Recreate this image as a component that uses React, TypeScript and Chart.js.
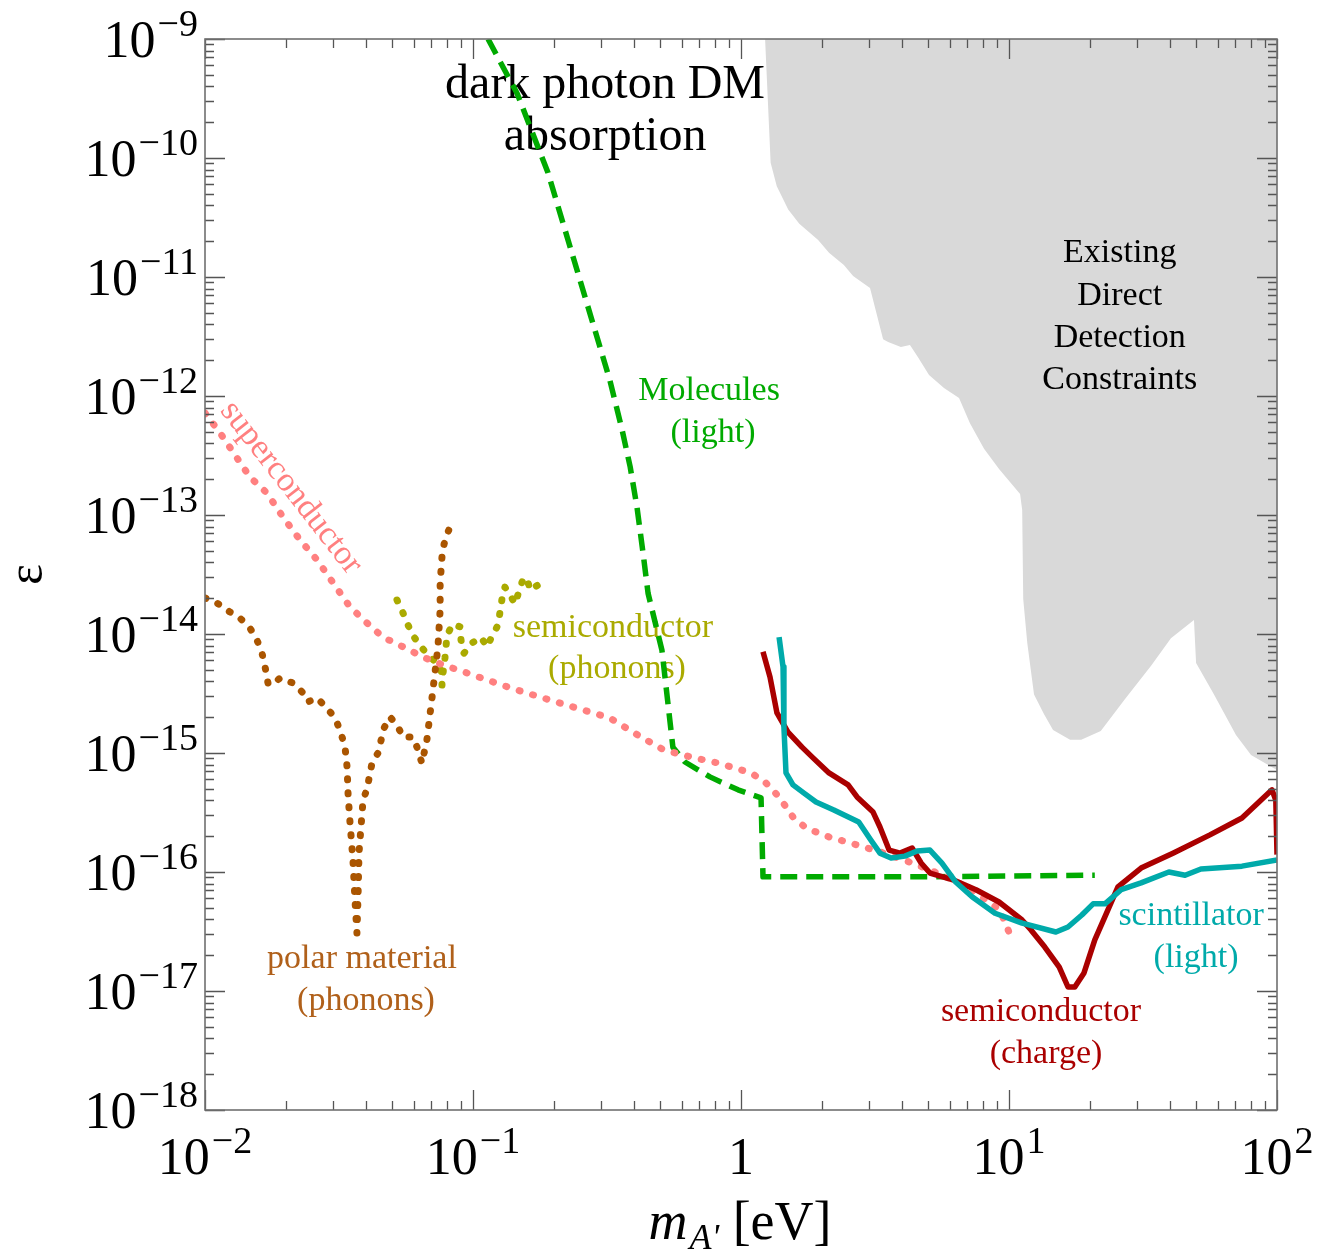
import { useEffect, useRef } from 'react';
import { Chart, registerables } from 'chart.js';
Chart.register(...registerables);

const SERIF = '"Liberation Serif", "Times New Roman", Times, serif';
const W = 1317;
const H = 1249;

// ---- Existing direct detection constraints (grey region, upper boundary) ----
const constraintMass = [1.23, 1.29, 1.36, 1.5, 1.65, 1.94, 2.13, 2.42, 2.62, 3.03, 3.39, 3.54, 3.95, 4.27, 4.57, 5.03, 5.72, 6.51, 7.15, 8.07, 9.18, 11.0, 11.2, 11.3, 11.7, 12.4, 13.5, 14.6, 16.9, 18.6, 22.0, 27.1, 33.9, 40.2, 49.0, 49.9, 58.2, 70.3, 80.0, 96.6, 100];
const constraintEps = [1e-9, 9.1e-11, 5.8e-11, 3.7e-11, 2.8e-11, 2.05e-11, 1.6e-11, 1.26e-11, 1.02e-11, 8.1e-12, 3.0e-12, 2.84e-12, 2.58e-12, 2.68e-12, 2.13e-12, 1.5e-12, 1.17e-12, 9.6e-13, 5.9e-13, 3.6e-13, 2.44e-13, 1.5e-13, 1.1e-13, 1.97e-14, 8.4e-15, 3.1e-15, 2.13e-15, 1.56e-15, 1.29e-15, 1.29e-15, 1.53e-15, 2.84e-15, 5.4e-15, 9.2e-15, 1.31e-14, 5.7e-15, 3.1e-15, 1.42e-15, 9.6e-16, 7.5e-16, 7.2e-16];

// ---- Molecules (light) ----
const moleculesMass = [0.1138, 0.146, 0.1905, 0.324, 0.36, 0.386, 0.409, 0.431, 0.45, 0.507, 0.557, 0.618, 0.766, 0.975, 1.188, 1.208, 4.7, 20.9];
const moleculesEps = [1e-9, 3.5e-10, 7.5e-11, 1.36e-12, 5.2e-13, 2.53e-13, 1.17e-13, 4.8e-14, 2.2e-14, 7.3e-15, 1.12e-15, 8.4e-16, 6.3e-16, 4.9e-16, 4.2e-16, 9.1e-17, 9.1e-17, 9.4e-17];

// ---- Semiconductor (charge) ----
const chargeMass = [1.208, 1.283, 1.362, 1.497, 1.689, 1.857, 2.13, 2.51, 2.71, 3.11, 3.3, 3.57, 3.92, 4.35, 4.7, 5.07, 6.18, 7.53, 9.18, 11.19, 12.08, 13.6, 15.4, 16.6, 17.6, 19.05, 20.9, 23.2, 25.5, 31.1, 40.9, 56.2, 74.0, 95.8, 99, 100];
const chargeEps = [7.1e-15, 4.35e-15, 2.17e-15, 1.5e-15, 1.12e-15, 9.1e-16, 6.8e-16, 5.4e-16, 4.27e-16, 3.19e-16, 2.39e-16, 1.53e-16, 1.44e-16, 1.59e-16, 1.19e-16, 9.8e-17, 8.6e-17, 7.1e-17, 5.6e-17, 3.95e-17, 3.26e-17, 2.34e-17, 1.59e-17, 1.08e-17, 1.08e-17, 1.42e-17, 2.69e-17, 4.6e-17, 7.5e-17, 1.08e-16, 1.44e-16, 2.05e-16, 2.84e-16, 4.9e-16, 4.0e-16, 1.4e-16];

// ---- Scintillator (light) ----
const scintMass = [1.387, 1.435, 1.446, 1.472, 1.563, 1.718, 1.905, 2.22, 2.75, 3.05, 3.3, 3.63, 4.09, 4.54, 5.07, 5.62, 6.34, 7.28, 8.87, 11.19, 14.96, 16.6, 18.7, 20.6, 22.8, 26.2, 31.1, 39.5, 45.4, 52.0, 74.0, 100];
const scintEps = [9.4e-15, 5.3e-15, 1.65e-15, 6.8e-16, 5.4e-16, 4.6e-16, 3.87e-16, 3.32e-16, 2.63e-16, 1.86e-16, 1.44e-16, 1.31e-16, 1.36e-16, 1.5e-16, 1.53e-16, 1.19e-16, 8.2e-17, 6.2e-17, 4.5e-17, 3.72e-17, 3.13e-17, 3.45e-17, 4.35e-17, 5.4e-17, 5.4e-17, 7.1e-17, 8.1e-17, 1.0e-16, 9.4e-17, 1.06e-16, 1.12e-16, 1.26e-16];

// ---- Superconductor ----
const superMass = [0.01, 0.01138, 0.01472, 0.01702, 0.01955, 0.02259, 0.02618, 0.03006, 0.03475, 0.04018, 0.04613, 0.05483, 0.065, 0.0773, 0.0951, 0.1189, 0.146, 0.1936, 0.257, 0.324, 0.424, 0.516, 0.656, 0.828, 1.089, 1.23, 1.387, 1.563, 1.749, 2.13, 2.71, 3.42, 4.35, 5.07, 6.18, 7.53, 9.25, 10.17];
const superEps = [7.2e-13, 4.9e-13, 2.08e-13, 1.53e-13, 9.6e-14, 6.2e-14, 4.2e-14, 2.69e-14, 1.69e-14, 1.24e-14, 9.4e-15, 7.8e-15, 6.4e-15, 5.5e-15, 4.7e-15, 3.95e-15, 3.38e-15, 2.79e-15, 2.3e-15, 1.97e-15, 1.36e-15, 1.06e-15, 9.2e-16, 8.2e-16, 6.8e-16, 5.7e-16, 4.27e-16, 2.9e-16, 2.34e-16, 1.97e-16, 1.69e-16, 1.44e-16, 1.19e-16, 1.04e-16, 8.6e-17, 6.7e-17, 4.8e-17, 2.85e-17];

// ---- Polar material (phonons) ----
const polarMass = [0.01, 0.01109, 0.0124, 0.01351, 0.01472, 0.01563, 0.01632, 0.01675, 0.01718, 0.01778, 0.01905, 0.0213, 0.02323, 0.0242, 0.02618, 0.0285, 0.03055, 0.0319, 0.0333, 0.0339, 0.0342, 0.03475, 0.03565, 0.03628, 0.03689, 0.03727, 0.03755, 0.0382, 0.03888, 0.04023, 0.04198, 0.04421, 0.04656, 0.04898, 0.05205, 0.05483, 0.0597, 0.0618, 0.0645, 0.0673, 0.0703, 0.0721, 0.074, 0.0754, 0.0754, 0.0766, 0.078, 0.0807, 0.0841];
const polarEps = [2.01e-14, 1.82e-14, 1.53e-14, 1.36e-14, 1.12e-14, 8.9e-15, 6.9e-15, 5.3e-15, 3.87e-15, 3.72e-15, 4.27e-15, 3.87e-15, 3.19e-15, 2.69e-15, 2.9e-15, 2.39e-15, 1.97e-15, 1.56e-15, 1.12e-15, 7.6e-16, 4.43e-16, 2.63e-16, 1.26e-16, 5.8e-17, 3.07e-17, 6.7e-17, 1.44e-16, 2.39e-16, 4.03e-16, 4.98e-16, 8.2e-16, 1.0e-15, 1.62e-15, 2.01e-15, 1.72e-15, 1.36e-15, 1.36e-15, 1.12e-15, 8.2e-16, 1.29e-15, 2.9e-15, 4.7e-15, 7.8e-15, 1.59e-14, 2.69e-14, 4.43e-14, 5.7e-14, 7.2e-14, 9.2e-14];

// ---- Semiconductor (phonons) ----
const phononMass = [0.05205, 0.05483, 0.0572, 0.0603, 0.064, 0.0686, 0.0735, 0.0766, 0.0766, 0.0773, 0.0786, 0.08, 0.0841, 0.0894, 0.0902, 0.0926, 0.0991, 0.1072, 0.1127, 0.1178, 0.124, 0.1283, 0.1315, 0.1374, 0.1436, 0.1486, 0.1538, 0.159, 0.1632, 0.1748];
const phononEps = [1.93e-14, 1.5e-14, 1.19e-14, 9.4e-15, 7.8e-15, 6.5e-15, 5.7e-15, 4.7e-15, 3.72e-15, 4.7e-15, 6.3e-15, 9.8e-15, 1.21e-14, 1.15e-14, 8.9e-15, 6.9e-15, 8.4e-15, 9.4e-15, 7.8e-15, 9.6e-15, 1.19e-14, 1.97e-14, 2.48e-14, 2.13e-14, 1.79e-14, 2.3e-14, 2.9e-14, 2.96e-14, 2.34e-14, 2.58e-14];

// ---- Tick labels ----
const xTickValues = [0.01, 0.1, 1, 10, 100];
const xTickBase = ['10', '10', '1', '10', '10'];
const xTickSup = ['\u22122', '\u22121', '', '1', '2'];
const yTickValues = [1e-18, 1e-17, 1e-16, 1e-15, 1e-14, 1e-13, 1e-12, 1e-11, 1e-10, 1e-9];
const yTickBase = ['10', '10', '10', '10', '10', '10', '10', '10', '10', '10'];
const yTickSup = ['\u221218', '\u221217', '\u221216', '\u221215', '\u221214', '\u221213', '\u221212', '\u221211', '\u221210', '\u22129'];

// ---- Text annotations (anchored in data coordinates) ----
const annotations = [
  { text: 'dark photon DM', x: 0.311, y: 3.19e-10, color: '#000000', size: 48, angle: 0 },
  { text: 'absorption', x: 0.311, y: 1.17e-10, color: '#000000', size: 48, angle: 0 },
  { text: 'Existing', x: 25.9, y: 1.34e-11, color: '#000000', size: 34, angle: 0 },
  { text: 'Direct', x: 25.9, y: 5.8e-12, color: '#000000', size: 34, angle: 0 },
  { text: 'Detection', x: 25.9, y: 2.58e-12, color: '#000000', size: 34, angle: 0 },
  { text: 'Constraints', x: 25.9, y: 1.15e-12, color: '#000000', size: 34, angle: 0 },
  { text: 'Molecules', x: 0.76, y: 9.2e-13, color: '#00aa00', size: 34, angle: 0 },
  { text: '(light)', x: 0.786, y: 4.1e-13, color: '#00aa00', size: 34, angle: 0 },
  { text: 'semiconductor', x: 0.3326, y: 9.4e-15, color: '#aaaa00', size: 34, angle: 0 },
  { text: '(phonons)', x: 0.3446, y: 4.27e-15, color: '#aaaa00', size: 34, angle: 0 },
  { text: 'polar material', x: 0.03853, y: 1.56e-17, color: '#b0601a', size: 34, angle: 0 },
  { text: '(phonons)', x: 0.03988, y: 6.9e-18, color: '#b0601a', size: 34, angle: 0 },
  { text: 'semiconductor', x: 13.16, y: 5.6e-18, color: '#aa0000', size: 34, angle: 0 },
  { text: '(charge)', x: 13.74, y: 2.48e-18, color: '#aa0000', size: 34, angle: 0 },
  { text: 'scintillator', x: 47.8, y: 3.59e-17, color: '#00aaaa', size: 34, angle: 0 },
  { text: '(light)', x: 49.9, y: 1.59e-17, color: '#00aaaa', size: 34, angle: 0 },
  { text: 'superconductor', x: 0.02094, y: 1.69e-13, color: '#ff8080', size: 34, angle: 52 },
];

const pts = (xs: number[], ys: number[]) => xs.map((x, i) => ({ x, y: ys[i] }));

const BASE_SIZE = 52;
const SUP_SIZE = 38;

function drawPower(ctx: CanvasRenderingContext2D, base: string, sup: string, x: number, y: number, align: 'right' | 'center') {
  ctx.font = `${BASE_SIZE}px ${SERIF}`;
  const wb = ctx.measureText(base).width;
  ctx.font = `${SUP_SIZE}px ${SERIF}`;
  const ws = sup ? ctx.measureText(sup).width : 0;
  const gap = sup ? 2 : 0;
  const total = wb + gap + ws;
  const x0 = align === 'right' ? x - total : x - total / 2;
  ctx.textAlign = 'left';
  ctx.textBaseline = 'alphabetic';
  ctx.fillStyle = '#000';
  ctx.font = `${BASE_SIZE}px ${SERIF}`;
  ctx.fillText(base, x0, y);
  if (sup) {
    ctx.font = `${SUP_SIZE}px ${SERIF}`;
    ctx.fillText(sup, x0 + wb + gap, y - 21);
  }
}

const annotationPlugin = {
  id: 'annotations',
  afterDatasetDraw(chart: any, args: any) {
    if (args.index !== 0) return; // draw labels right after the grey region
    const { ctx } = chart;
    const xs = chart.scales.x;
    const ys = chart.scales.y;
    ctx.save();
    for (const an of annotations) {
      const px = xs.getPixelForValue(an.x);
      const py = ys.getPixelForValue(an.y);
      ctx.font = `${an.size}px ${SERIF}`;
      ctx.fillStyle = an.color;
      ctx.textAlign = 'center';
      if (an.angle) {
        ctx.save();
        ctx.translate(px, py);
        ctx.rotate((an.angle * Math.PI) / 180);
        ctx.textBaseline = 'middle';
        ctx.fillText(an.text, 0, 0);
        ctx.restore();
      } else {
        ctx.textBaseline = 'alphabetic';
        ctx.fillText(an.text, px, py);
      }
    }
    ctx.restore();
  },
};

const framePlugin = {
  id: 'frame',
  afterDraw(chart: any) {
    const { ctx, chartArea: a } = chart;
    const xs = chart.scales.x;
    const ys = chart.scales.y;
    ctx.save();
    ctx.strokeStyle = '#555555';
    ctx.lineWidth = 1.3;
    const majorLen = 20;
    const minorLen = 9;
    ctx.beginPath();
    for (let e = -2; e <= 2; e++) {
      for (let k = 1; k <= 9; k++) {
        const v = k * Math.pow(10, e);
        if (v > 100.0001) break;
        const px = Math.round(xs.getPixelForValue(v)) + 0.5;
        const len = k === 1 ? majorLen : minorLen;
        ctx.moveTo(px, a.bottom);
        ctx.lineTo(px, a.bottom - len);
        ctx.moveTo(px, a.top);
        ctx.lineTo(px, a.top + len);
      }
    }
    for (let e = -18; e <= -9; e++) {
      for (let k = 1; k <= 9; k++) {
        const v = k * Math.pow(10, e);
        if (v > 1.0001e-9) break;
        const py = Math.round(ys.getPixelForValue(v)) + 0.5;
        const len = k === 1 ? majorLen : minorLen;
        ctx.moveTo(a.left, py);
        ctx.lineTo(a.left + len, py);
        ctx.moveTo(a.right, py);
        ctx.lineTo(a.right - len, py);
      }
    }
    ctx.stroke();
    ctx.strokeStyle = '#707070';
    ctx.lineWidth = 1.6;
    ctx.strokeRect(a.left, a.top, a.right - a.left, a.bottom - a.top);

    xTickValues.forEach((v, i) => {
      drawPower(ctx, xTickBase[i], xTickSup[i], xs.getPixelForValue(v), a.bottom + 64, 'center');
    });
    yTickValues.forEach((v, i) => {
      drawPower(ctx, yTickBase[i], yTickSup[i], a.left - 7, ys.getPixelForValue(v) + 18, 'right');
    });

    // y axis title
    ctx.save();
    ctx.translate(a.left - 174, (a.top + a.bottom) / 2);
    ctx.rotate(-Math.PI / 2);
    ctx.font = `50px ${SERIF}`;
    ctx.textAlign = 'center';
    ctx.textBaseline = 'alphabetic';
    ctx.fillStyle = '#000';
    ctx.fillText('\u03b5', 0, 11);
    ctx.restore();

    // x axis title: m_{A'} [eV]
    const cx = (a.left + a.right) / 2 - 1;
    const base = a.bottom + 129;
    ctx.textAlign = 'left';
    ctx.textBaseline = 'alphabetic';
    ctx.fillStyle = '#000';
    ctx.font = `italic 54px ${SERIF}`;
    const wm = ctx.measureText('m').width;
    ctx.font = `italic 36px ${SERIF}`;
    const wa = ctx.measureText("A'").width;
    ctx.font = `54px ${SERIF}`;
    const we = ctx.measureText(' [eV]').width;
    const total = wm + 2 + wa + we;
    let x0 = cx - total / 2;
    ctx.font = `italic 54px ${SERIF}`;
    ctx.fillText('m', x0, base);
    x0 += wm + 2;
    ctx.font = `italic 36px ${SERIF}`;
    ctx.fillText("A'", x0, base + 10);
    x0 += wa;
    ctx.font = `54px ${SERIF}`;
    ctx.fillText(' [eV]', x0, base);
    ctx.restore();
  },
};

export default function App() {
  const ref = useRef<HTMLCanvasElement>(null);
  useEffect(() => {
    const canvas = ref.current;
    if (!canvas) return;
    const dotted = { borderDash: [1, 13], borderCapStyle: 'round' as const, borderWidth: 7 };
    const chart = new Chart(canvas, {
      type: 'line',
      data: {
        datasets: [
          {
            label: 'Existing constraints',
            data: pts(constraintMass, constraintEps),
            borderWidth: 0,
            borderColor: 'rgba(0,0,0,0)',
            backgroundColor: '#d9d9d9',
            fill: 'end',
            pointRadius: 0,
            order: 10,
          },
          {
            label: 'Molecules (light)',
            data: pts(moleculesMass, moleculesEps),
            borderColor: '#00aa00',
            borderWidth: 5.5,
            borderDash: [17, 9],
            borderCapStyle: 'butt',
            fill: false,
            pointRadius: 0,
            order: 5,
          },
          {
            label: 'Superconductor',
            data: pts(superMass, superEps),
            borderColor: '#ff8080',
            ...dotted,
            fill: false,
            pointRadius: 0,
            order: 4,
          },
          {
            label: 'Polar material (phonons)',
            data: pts(polarMass, polarEps),
            borderColor: '#aa5500',
            ...dotted,
            fill: false,
            pointRadius: 0,
            order: 6,
          },
          {
            label: 'Semiconductor (phonons)',
            data: pts(phononMass, phononEps),
            borderColor: '#aaaa00',
            ...dotted,
            fill: false,
            pointRadius: 0,
            order: 7,
          },
          {
            label: 'Semiconductor (charge)',
            data: pts(chargeMass, chargeEps),
            borderColor: '#aa0000',
            borderWidth: 5.5,
            fill: false,
            pointRadius: 0,
            order: 3,
          },
          {
            label: 'Scintillator (light)',
            data: pts(scintMass, scintEps),
            borderColor: '#00aaaa',
            borderWidth: 5.5,
            fill: false,
            pointRadius: 0,
            order: 2,
          },
        ],
      },
      options: {
        responsive: false,
        animation: false,
        devicePixelRatio: 1,
        layout: { padding: { left: 205, top: 39, right: 40, bottom: 139 } },
        elements: { line: { tension: 0, borderJoinStyle: 'round' } },
        plugins: { legend: { display: false }, tooltip: { enabled: false } },
        events: [],
        scales: {
          x: { type: 'logarithmic', min: 0.01, max: 100, display: false },
          y: { type: 'logarithmic', min: 1e-18, max: 1e-9, display: false },
        },
      },
      plugins: [annotationPlugin, framePlugin],
    });
    return () => chart.destroy();
  }, []);
  return (
    <div style={{ position: 'absolute', left: 0, top: 0, width: W, height: H, background: '#ffffff' }}>
      <canvas ref={ref} width={W} height={H} style={{ width: W, height: H, display: 'block' }} />
    </div>
  );
}
